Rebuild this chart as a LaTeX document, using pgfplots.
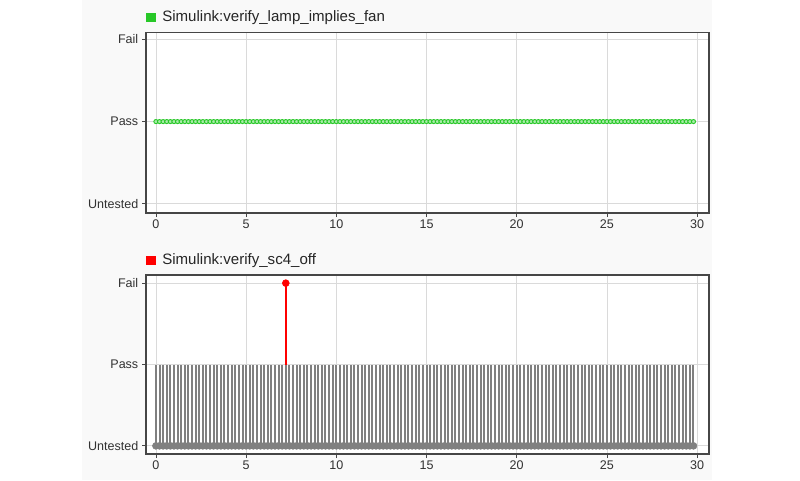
\documentclass[border=0pt]{standalone}
\usepackage{pgfplots}
\pgfplotsset{compat=1.18}
\usepackage{pgfplotstable}
\usepackage{fontspec}
\setmainfont{Liberation Sans}
\definecolor{mygreen}{RGB}{40,200,40}
\definecolor{mylightgreen}{RGB}{170,235,170}
\definecolor{mygray}{RGB}{128,128,128}
\definecolor{panelbg}{RGB}{249,249,249}
\definecolor{gridc}{RGB}{218,218,218}
\definecolor{axc}{RGB}{70,70,70}
\definecolor{labc}{RGB}{50,50,50}

\pgfplotstableread[row sep=\\]{
t lamp pass base\\
0 1 1 0\\ 0.2 1 1 0\\ 0.4 1 1 0\\ 0.6 1 1 0\\ 0.8 1 1 0\\ 1 1 1 0\\ 1.2 1 1 0\\ 1.4 1 1 0\\ 1.6 1 1 0\\ 1.8 1 1 0\\
2 1 1 0\\ 2.2 1 1 0\\ 2.4 1 1 0\\ 2.6 1 1 0\\ 2.8 1 1 0\\ 3 1 1 0\\ 3.2 1 1 0\\ 3.4 1 1 0\\ 3.6 1 1 0\\ 3.8 1 1 0\\
4 1 1 0\\ 4.2 1 1 0\\ 4.4 1 1 0\\ 4.6 1 1 0\\ 4.8 1 1 0\\ 5 1 1 0\\ 5.2 1 1 0\\ 5.4 1 1 0\\ 5.6 1 1 0\\ 5.8 1 1 0\\
6 1 1 0\\ 6.2 1 1 0\\ 6.4 1 1 0\\ 6.6 1 1 0\\ 6.8 1 1 0\\ 7 1 1 0\\ 7.2 1 1 0\\ 7.4 1 1 0\\ 7.6 1 1 0\\ 7.8 1 1 0\\
8 1 1 0\\ 8.2 1 1 0\\ 8.4 1 1 0\\ 8.6 1 1 0\\ 8.8 1 1 0\\ 9 1 1 0\\ 9.2 1 1 0\\ 9.4 1 1 0\\ 9.6 1 1 0\\ 9.8 1 1 0\\
10 1 1 0\\ 10.2 1 1 0\\ 10.4 1 1 0\\ 10.6 1 1 0\\ 10.8 1 1 0\\ 11 1 1 0\\ 11.2 1 1 0\\ 11.4 1 1 0\\ 11.6 1 1 0\\ 11.8 1 1 0\\
12 1 1 0\\ 12.2 1 1 0\\ 12.4 1 1 0\\ 12.6 1 1 0\\ 12.8 1 1 0\\ 13 1 1 0\\ 13.2 1 1 0\\ 13.4 1 1 0\\ 13.6 1 1 0\\ 13.8 1 1 0\\
14 1 1 0\\ 14.2 1 1 0\\ 14.4 1 1 0\\ 14.6 1 1 0\\ 14.8 1 1 0\\ 15 1 1 0\\ 15.2 1 1 0\\ 15.4 1 1 0\\ 15.6 1 1 0\\ 15.8 1 1 0\\
16 1 1 0\\ 16.2 1 1 0\\ 16.4 1 1 0\\ 16.6 1 1 0\\ 16.8 1 1 0\\ 17 1 1 0\\ 17.2 1 1 0\\ 17.4 1 1 0\\ 17.6 1 1 0\\ 17.8 1 1 0\\
18 1 1 0\\ 18.2 1 1 0\\ 18.4 1 1 0\\ 18.6 1 1 0\\ 18.8 1 1 0\\ 19 1 1 0\\ 19.2 1 1 0\\ 19.4 1 1 0\\ 19.6 1 1 0\\ 19.8 1 1 0\\
20 1 1 0\\ 20.2 1 1 0\\ 20.4 1 1 0\\ 20.6 1 1 0\\ 20.8 1 1 0\\ 21 1 1 0\\ 21.2 1 1 0\\ 21.4 1 1 0\\ 21.6 1 1 0\\ 21.8 1 1 0\\
22 1 1 0\\ 22.2 1 1 0\\ 22.4 1 1 0\\ 22.6 1 1 0\\ 22.8 1 1 0\\ 23 1 1 0\\ 23.2 1 1 0\\ 23.4 1 1 0\\ 23.6 1 1 0\\ 23.8 1 1 0\\
24 1 1 0\\ 24.2 1 1 0\\ 24.4 1 1 0\\ 24.6 1 1 0\\ 24.8 1 1 0\\ 25 1 1 0\\ 25.2 1 1 0\\ 25.4 1 1 0\\ 25.6 1 1 0\\ 25.8 1 1 0\\
26 1 1 0\\ 26.2 1 1 0\\ 26.4 1 1 0\\ 26.6 1 1 0\\ 26.8 1 1 0\\ 27 1 1 0\\ 27.2 1 1 0\\ 27.4 1 1 0\\ 27.6 1 1 0\\ 27.8 1 1 0\\
28 1 1 0\\ 28.2 1 1 0\\ 28.4 1 1 0\\ 28.6 1 1 0\\ 28.8 1 1 0\\ 29 1 1 0\\ 29.2 1 1 0\\ 29.4 1 1 0\\ 29.6 1 1 0\\ 29.8 1 1 0\\
}\datatable

\pgfplotsset{
  simstyle/.style={
    scale only axis,
    width=422.25pt,
    anchor=south west,
    xmin=-0.55, xmax=30.66,
    xtick={0,5,10,15,20,25,30},
    ytick={0,1,2},
    yticklabels={Untested,Pass,Fail},
    grid=major,
    major grid style={draw=gridc, line width=0.6pt},
    tick align=outside,
    xtick pos=bottom,
    ytick pos=left,
    major tick length=3pt,
    tick style={draw=axc, line width=0.6pt},
    axis line style={draw=axc, line width=0.9pt},
    axis background/.style={fill=white},
    tick label style={font=\fontsize{9.4}{11}\selectfont, text=labc},
    /pgf/number format/assume math mode=true,
    yticklabel style={inner sep=2.6pt},
    xticklabel style={inner sep=2pt},
    title style={at={(rel axis cs:0,1)}, anchor=west, inner sep=0pt, yshift=4.9pt, font=\fontsize{11.3}{13}\selectfont, text=black!85},
  }
}

\begin{document}
\begin{tikzpicture}
\useasboundingbox (0,0) rectangle (600pt,360pt);
\fill[panelbg] (61.5pt,0pt) rectangle (534pt,360pt);

\begin{axis}[simstyle,
  at={(109.5pt,200.25pt)},
  height=135.4pt,
  ymin=-0.113, ymax=2.085,
  title={\textcolor{mygreen}{\rule[-0.4pt]{7pt}{7pt}}\hspace{5pt}Simulink:verify\_lamp\_implies\_fan},
]
\addplot[only marks, mark=*, mark size=1.55pt, mark options={draw=mygreen, fill=mylightgreen, line width=0.7pt}] table[x=t, y=lamp] {\datatable};
\end{axis}

\begin{axis}[simstyle,
  at={(109.5pt,19.5pt)},
  height=134.25pt,
  ymin=-0.1, ymax=2.1,
  clip=false,
  title={\textcolor{red}{\rule[-0.4pt]{7pt}{7pt}}\hspace{5pt}Simulink:verify\_sc4\_off},
]
\addplot[ycomb, draw=mygray, line width=1.5pt, mark=none] table[x=t, y=pass] {\datatable};
\addplot[only marks, mark=*, mark size=2.6pt, mark options={draw=mygray, fill=mygray}] table[x=t, y=base] {\datatable};
\addplot[red, line width=1.7pt, mark=none] coordinates {(7.2,1) (7.2,2)};
\addplot[only marks, mark=*, mark size=2.6pt, mark options={draw=red, fill=red}] coordinates {(7.2,2)};
\end{axis}
\end{tikzpicture}
\end{document}
